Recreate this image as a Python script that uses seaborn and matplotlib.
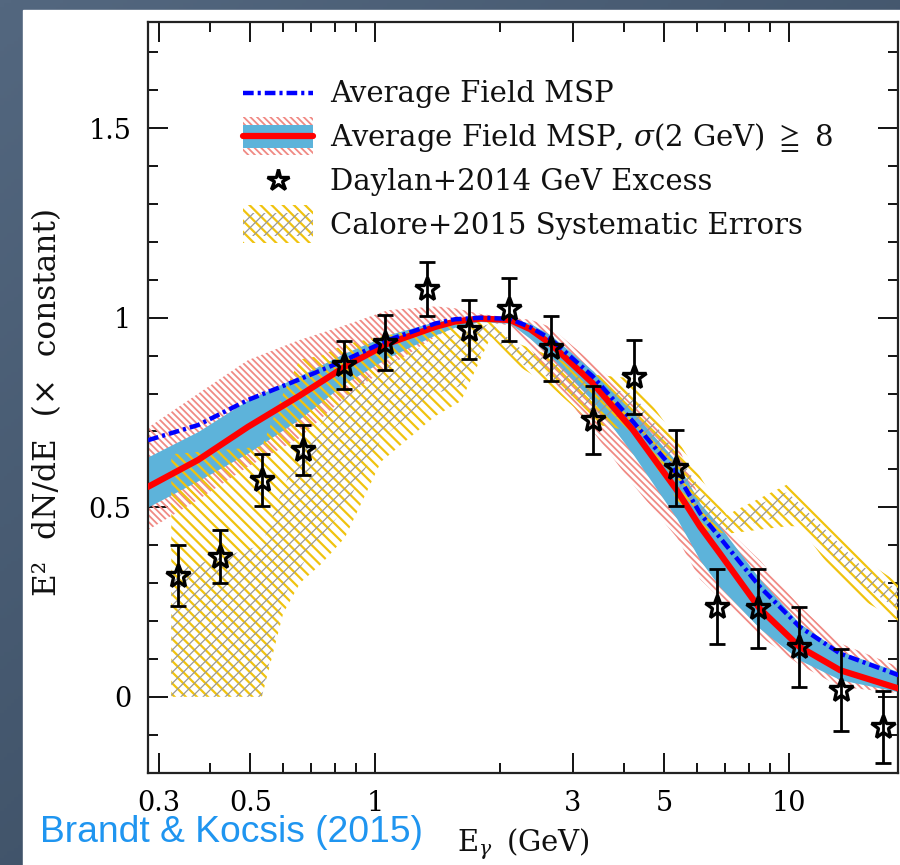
import numpy as np
import pandas as pd
import matplotlib
matplotlib.use("Agg")
import matplotlib.pyplot as plt
import seaborn as sns
from matplotlib.patches import Rectangle
from matplotlib.lines import Line2D
from matplotlib.legend_handler import HandlerBase
from matplotlib.colors import LinearSegmentedColormap
from matplotlib.ticker import FixedLocator, FixedFormatter, NullFormatter

# ---------------- data ----------------
# model spectra (energy in GeV)
model_energy = [0.283, 0.374, 0.493, 0.652, 0.846, 1.075, 1.40, 1.56, 1.80, 2.12,
                2.37, 2.65, 3.36, 4.20, 5.36, 6.10, 6.81, 8.51, 10.6, 13.3, 18.4]
avg_msp = [0.677, 0.717, 0.783, 0.836, 0.888, 0.941, 0.985, 0.996, 1.0, 0.997,
           0.975, 0.945, 0.845, 0.726, 0.589, 0.484, 0.42, 0.29, 0.185, 0.114, 0.057]
sel_msp = [0.554, 0.625, 0.712, 0.792, 0.871, 0.932, 0.976, 0.99, 0.998, 0.994,
           0.970, 0.932, 0.827, 0.704, 0.545, 0.449, 0.378, 0.232, 0.132, 0.070, 0.022]
sel_inner_lo = [0.501, 0.57, 0.643, 0.73, 0.827, 0.895, 0.955, 0.975, 0.99, 0.985,
                0.945, 0.90, 0.78, 0.64, 0.47, 0.36, 0.29, 0.18, 0.097, 0.045, 0.013]
sel_inner_hi = [0.633, 0.70, 0.783, 0.845, 0.907, 0.955, 0.99, 0.997, 1.0, 1.0,
                0.985, 0.955, 0.86, 0.75, 0.62, 0.51, 0.45, 0.31, 0.194, 0.12, 0.066]
sel_outer_lo = [0.44, 0.52, 0.607, 0.68, 0.79, 0.87, 0.95, 0.975, 0.99, 0.98,
                0.92, 0.844, 0.70, 0.56, 0.42, 0.31, 0.26, 0.16, 0.085, 0.026, 0.01]
sel_outer_hi = [0.71, 0.80, 0.888, 0.94, 0.98, 1.02, 1.03, 1.025, 1.01, 1.0,
                0.995, 0.976, 0.88, 0.79, 0.67, 0.52, 0.46, 0.36, 0.24, 0.141, 0.079]

# Daylan+2014 excess spectrum
daylan_energy = [0.334, 0.422, 0.533, 0.669, 0.843, 1.057, 1.333, 1.687, 2.111,
                 2.66, 3.37, 4.23, 5.33, 6.69, 8.43, 10.59, 13.33, 16.84]
daylan_flux = [0.32, 0.37, 0.572, 0.651, 0.875, 0.934, 1.075, 0.968, 1.022,
               0.919, 0.730, 0.844, 0.603, 0.238, 0.233, 0.132, 0.018, -0.079]
daylan_err = [0.08, 0.07, 0.068, 0.066, 0.063, 0.072, 0.071, 0.078, 0.083,
              0.086, 0.089, 0.098, 0.10, 0.099, 0.104, 0.105, 0.108, 0.095]

# Calore+2015 systematic error envelope
calore_energy = [0.322, 0.533, 0.60, 0.659, 0.741, 0.846, 1.034, 1.396, 1.613, 1.906,
                 2.24, 2.65, 3.36, 4.20, 5.36, 6.27, 7.08, 9.89, 10.6, 12.8, 14.8, 18.4]
calore_lo = [0.0, 0.0, 0.22, 0.30, 0.35, 0.42, 0.62, 0.74, 0.78, 0.95,
             0.87, 0.82, 0.72, 0.70, 0.52, 0.44, 0.43, 0.45, 0.45, 0.33, 0.26, 0.20]
calore_hi = [0.64, 0.66, 0.80, 0.89, 0.90, 0.93, 0.95, 0.98, 0.99, 1.0,
             0.93, 0.90, 0.85, 0.84, 0.68, 0.56, 0.48, 0.56, 0.53, 0.44, 0.37, 0.30]
calore_core_lo = [0.0, 0.0, 0.26, 0.34, 0.42, 0.50, 0.68, 0.80, 0.82, 0.955,
                  0.88, 0.84, 0.75, 0.73, 0.56, 0.47, 0.44, 0.48, 0.47, 0.37, 0.30, 0.23]
calore_core_hi = [0.33, 0.40, 0.55, 0.65, 0.72, 0.80, 0.87, 0.94, 0.96, 0.985,
                  0.92, 0.89, 0.82, 0.80, 0.64, 0.53, 0.47, 0.54, 0.51, 0.42, 0.35, 0.28]

x_major = [0.3, 0.5, 1, 3, 5, 10]
x_major_labels = ["0.3", "0.5", "1", "3", "5", "10"]
x_minor = [0.4, 0.6, 0.7, 0.8, 0.9, 2, 4, 6, 7, 8, 9]
y_major = [0, 0.5, 1, 1.5]
y_major_labels = ["0", "0.5", "1", "1.5"]

legend_labels = ["Average Field MSP",
                 r"Average Field MSP, $\sigma$(2 GeV) $\geqq$ 8",
                 "Daylan+2014 GeV Excess",
                 "Calore+2015 Systematic Errors"]

# ---------------- style ----------------
sns.set_theme(style="ticks")
plt.rcParams["font.family"] = ["DejaVu Serif", "DejaVu Sans"]
plt.rcParams["mathtext.fontset"] = "dejavuserif"

PINK = "#f08a84"
LIGHTBLUE = "#5db3da"
YELLOW = "#f0c30f"
GREY = "#999999"
FS = 19.5      # tick labels
FS_TEXT = 21   # axis labels and legend
BLUE_DASH = (0, (2.4, 0.9, 0.7, 0.9))
GAP = "\u2002\u2009"   # wide word gap for the axis label

fig = plt.figure(figsize=(9, 8.65), dpi=100)

# slate backdrop with a white panel
bg = fig.add_axes([0, 0, 1, 1], zorder=-10)
grad = np.linspace(0, 1, 256)
gx, gy = np.meshgrid(grad, grad)
shade = 0.55 * gy + 0.45 * gx
slate = LinearSegmentedColormap.from_list("slate", ["#53677f", "#34465b"])
bg.imshow(shade, cmap=slate, aspect="auto", extent=[0, 1, 0, 1], origin="upper")
bg.add_patch(Rectangle((23 / 900, 0), 1, 1 - 10 / 865, color="white", transform=bg.transAxes))
bg.set_axis_off()

ax = fig.add_axes([148 / 900, 1 - 773 / 865, 750 / 900, 751.3 / 865])
ax.set_facecolor("none")
ax.set_xscale("log")


def hatched_fill(x, lo, hi, hatch, color, lw, z):
    with plt.rc_context({"hatch.linewidth": lw}):
        coll = ax.fill_between(x, lo, hi, facecolor="none", edgecolor=color,
                               hatch=hatch, linewidth=0, zorder=z)
    if hasattr(coll, "set_hatch_linewidth"):
        coll.set_hatch_linewidth(lw)
    return coll


# model bands
hatched_fill(model_energy, sel_outer_lo, sel_outer_hi, "\\" * 5, PINK, 1.3, 1)
ax.fill_between(model_energy, sel_inner_lo, sel_inner_hi, color=LIGHTBLUE, linewidth=0, zorder=2)

# Calore systematics
hatched_fill(calore_energy, calore_lo, calore_hi, "\\" * 3, YELLOW, 1.6, 3)
hatched_fill(calore_energy, calore_core_lo, calore_core_hi, "/" * 3, GREY, 0.9, 3.5)

# model curves
df_model = pd.DataFrame({"E": model_energy, "avg": avg_msp, "sel": sel_msp})
sns.lineplot(data=df_model, x="E", y="sel", ax=ax, color="red", linewidth=4.5,
             estimator=None, sort=False, zorder=5)
sns.lineplot(data=df_model, x="E", y="avg", ax=ax, color="blue", linewidth=3.2,
             estimator=None, sort=False, zorder=6)
ax.lines[-1].set_linestyle(BLUE_DASH)
for ln in ax.lines:
    ln.set_solid_joinstyle("round")
    ln.set_dash_joinstyle("round")

# data points
ax.errorbar(daylan_energy, daylan_flux, yerr=daylan_err, fmt="none", ecolor="black",
            elinewidth=2.0, capsize=5.5, capthick=2.0, zorder=7)
ax.plot(daylan_energy, daylan_flux, linestyle="none", marker="*", markersize=18,
        markerfacecolor="none", markeredgecolor="black", markeredgewidth=2.4, zorder=8)

# axes
ax.set_xlim(0.2829, 18.34)
ax.set_ylim(-0.201, 1.781)
ax.xaxis.set_major_locator(FixedLocator(x_major))
ax.xaxis.set_major_formatter(FixedFormatter(x_major_labels))
ax.xaxis.set_minor_locator(FixedLocator(x_minor))
ax.xaxis.set_minor_formatter(NullFormatter())
ax.yaxis.set_major_locator(FixedLocator(y_major))
ax.yaxis.set_major_formatter(FixedFormatter(y_major_labels))
ax.yaxis.set_minor_locator(FixedLocator(np.round(np.arange(-0.2, 1.75, 0.1), 2)))
ax.tick_params(which="both", direction="in", top=True, right=True, colors="black",
               labelsize=FS, width=1.3)
ax.tick_params(which="major", length=14.5, pad=12)
ax.tick_params(which="minor", length=7.2)
for sp in ax.spines.values():
    sp.set_color("#222222")
    sp.set_linewidth(1.6)
ax.grid(False)

ax.set_ylabel(f"E²{GAP}dN/dE{GAP}(×{GAP}constant)", fontsize=22.5, color="#111111")
ax.yaxis.set_label_coords(-0.113, 0.494)
ax.set_xlabel("E$_\\gamma$\u2002(GeV)", fontsize=FS_TEXT, color="#111111")
ax.xaxis.set_label_coords(0.5, -0.071)


# legend
class LayeredHandler(HandlerBase):
    def __init__(self, layers):
        super().__init__()
        self.layers = layers

    def create_artists(self, legend, orig_handle, xdescent, ydescent, width,
                       height, fontsize, trans):
        arts = []
        for kind, frac, kw in self.layers:
            kw = dict(kw)
            h = height * frac
            y0 = -ydescent + (height - h) / 2
            yc = -ydescent + height / 2
            if kind == "rect":
                hlw = kw.pop("hlw", None)
                with plt.rc_context({"hatch.linewidth": hlw or 1.0}):
                    r = Rectangle((-xdescent, y0), width, h, transform=trans, **kw)
                if hlw is not None and hasattr(r, "set_hatch_linewidth"):
                    r.set_hatch_linewidth(hlw)
                arts.append(r)
            elif kind == "line":
                arts.append(Line2D([-xdescent, -xdescent + width], [yc, yc],
                                   transform=trans, **kw))
            else:
                arts.append(Line2D([-xdescent + width / 2], [yc], transform=trans, **kw))
        return arts


h_avg = Rectangle((0, 0), 1, 1)
h_sel = Rectangle((0, 0), 1, 1)
h_day = Rectangle((0, 0), 1, 1)
h_cal = Rectangle((0, 0), 1, 1)
handler_map = {
    h_avg: LayeredHandler([("line", 1, dict(color="blue", linewidth=3.2, linestyle=BLUE_DASH))]),
    h_sel: LayeredHandler([
        ("rect", 1.0, dict(facecolor="none", edgecolor=PINK, hatch="\\" * 5, linewidth=0, hlw=1.3)),
        ("rect", 0.6, dict(facecolor=LIGHTBLUE, edgecolor="none", linewidth=0)),
        ("line", 1, dict(color="red", linewidth=4.5)),
    ]),
    h_day: LayeredHandler([("marker", 1, dict(marker="*", markersize=16, linestyle="none",
                                              markerfacecolor="none", markeredgecolor="black",
                                              markeredgewidth=2.4))]),
    h_cal: LayeredHandler([
        ("rect", 1.0, dict(facecolor="none", edgecolor=YELLOW, hatch="\\" * 3, linewidth=0, hlw=1.6)),
        ("rect", 0.6, dict(facecolor="none", edgecolor=GREY, hatch="/" * 3, linewidth=0, hlw=0.9)),
    ]),
}
leg = ax.legend([h_avg, h_sel, h_day, h_cal], legend_labels, handler_map=handler_map,
                loc="upper left", bbox_to_anchor=(0.127, 0.931), frameon=False,
                fontsize=FS_TEXT, handlelength=2.4, handleheight=1.63, labelspacing=0.2,
                handletextpad=0.58, borderpad=0, borderaxespad=0)
for t in leg.get_texts():
    t.set_color("#111111")

fig.text(40 / 900, 1 - 832 / 865, "Brandt & Kocsis (2015)", color="#1f95f0",
         fontsize=26.8, family="Liberation Sans", va="center", ha="left")

fig.savefig("out.png", dpi=100)
